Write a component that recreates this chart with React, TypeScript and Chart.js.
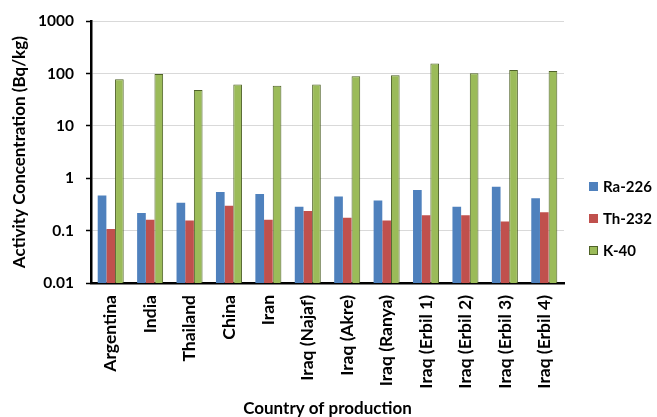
import React, { useEffect, useRef } from "react";
import { Chart, registerables } from "chart.js";

Chart.register(...registerables);

const categories = [
  "Argentina",
  "India",
  "Thailand",
  "China",
  "Iran",
  "Iraq (Najaf)",
  "Iraq (Akre)",
  "Iraq (Ranya)",
  "Iraq (Erbil 1)",
  "Iraq (Erbil 2)",
  "Iraq (Erbil 3)",
  "Iraq (Erbil 4)",
];

const ra226 = [0.47, 0.217, 0.34, 0.545, 0.5, 0.285, 0.45, 0.375, 0.595, 0.285, 0.687, 0.415];
const th232 = [0.107, 0.162, 0.156, 0.298, 0.162, 0.237, 0.177, 0.156, 0.196, 0.196, 0.149, 0.226];
const k40 = [78, 98, 48.5, 62, 59, 62, 89, 93, 156, 102, 118, 112];

const yTickValues = [0.01, 0.1, 1, 10, 100, 1000];
const yTickLabels = ["0.01", "0.1", "1", "10", "100", "1000"];

const seriesNames = ["Ra-226", "Th-232", "K-40"];
const seriesColors = ["#4F81BD", "#C0504D", "#9BBB59"];
const seriesBorders = ["#4F81BD", "#C0504D", "#4F6228"];

const FONT = "Lato, 'Open Sans', sans-serif";

const legendPlugin = {
  id: "customLegend",
  afterDraw(chart: any) {
    const ctx = chart.ctx;
    ctx.save();
    ctx.font = `bold 15px ${FONT}`;
    ctx.textBaseline = "middle";
    ctx.textAlign = "left";
    const x0 = 589;
    const y0 = 186.5;
    const step = 32;
    chart.data.datasets.forEach((ds: any, i: number) => {
      const cy = y0 + i * step;
      ctx.fillStyle = ds.backgroundColor;
      ctx.fillRect(x0, cy - 4.5, 9, 9);
      if (i === 2) {
        ctx.strokeStyle = ds.borderColor;
        ctx.lineWidth = 1;
        ctx.strokeRect(x0 + 0.5, cy - 4, 8, 8);
      }
      ctx.fillStyle = "#000";
      ctx.fillText(ds.label, x0 + 14, cy + 1);
    });
    ctx.restore();
  },
};

export default function App() {
  const ref = useRef<HTMLCanvasElement | null>(null);

  useEffect(() => {
    if (!ref.current) return;
    const chart = new Chart(ref.current, {
      type: "bar",
      data: {
        labels: categories,
        datasets: [ra226, th232, k40].map((d, i) => ({
          label: seriesNames[i],
          data: d,
          backgroundColor: seriesColors[i],
          borderColor: seriesBorders[i],
          borderWidth: i === 2 ? 1 : 0,
          categoryPercentage: 0.66,
          barPercentage: 1,
        })),
      },
      options: {
        responsive: false,
        animation: false,
        layout: { padding: { left: 0, top: 16, right: 93, bottom: 0 } },
        plugins: {
          legend: { display: false },
          tooltip: { enabled: false },
        },
        scales: {
          x: {
            type: "category",
            grid: { display: false, drawTicks: false },
            border: { display: true, color: "#000", width: 2.5 },
            ticks: {
              color: "#000",
              font: { family: FONT, size: 17.5, weight: "bold" },
              minRotation: 90,
              maxRotation: 90,
              autoSkip: false,
              padding: 12,
            },
            title: {
              display: true,
              text: "Country of production",
              color: "#000",
              font: { family: FONT, size: 17, weight: "bold", lineHeight: 1 },
              padding: { top: 0, bottom: 0 },
            },
            afterFit: (s: any) => {
              s.height = 134;
            },
          },
          y: {
            type: "logarithmic",
            min: 0.01,
            max: 1000,
            grid: {
              color: "#d9d9d9",
              lineWidth: 1,
              drawTicks: true,
              tickLength: 5,
              tickColor: "#000",
              tickWidth: 1.5,
            },
            border: { display: true, color: "#000", width: 2.5 },
            afterBuildTicks: (s: any) => {
              s.ticks = yTickValues.map((v) => ({ value: v }));
            },
            ticks: {
              color: "#000",
              font: { family: FONT, size: 15.5, weight: "bold" },
              padding: 12,
              callback: (_v: any, i: number) => yTickLabels[i],
            },
            title: {
              display: true,
              text: "Activity Concentration (Bq/kg)",
              color: "#000",
              font: { family: FONT, size: 17, weight: "bold", lineHeight: 1.2 },
              padding: { top: 9, bottom: 0 },
            },
            afterFit: (s: any) => {
              s.width = 91;
            },
          },
        },
      },
      plugins: [legendPlugin],
    });
    return () => chart.destroy();
  }, []);

  return (
    <div style={{ position: "absolute", left: 0, top: 0, width: 657, height: 417, background: "#fff" }}>
      <canvas ref={ref} width={657} height={417} style={{ display: "block" }} />
    </div>
  );
}
